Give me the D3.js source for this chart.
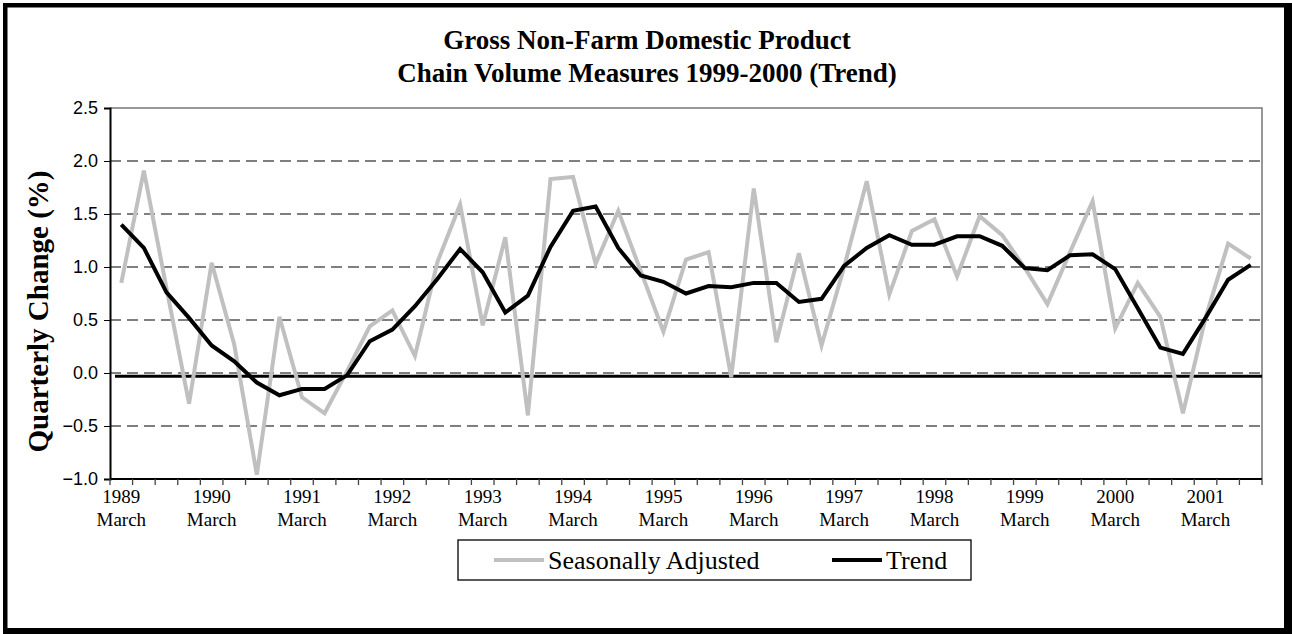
<!DOCTYPE html>
<meta charset="utf-8">
<script src="https://d3js.org/d3.v7.min.js"></script>
<style>
  body { margin: 0; background: #fff; }
</style>
<div id="chart"></div>
<script>

// quarters: March 1989 .. September 2001
var years = ["1989","1990","1991","1992","1993","1994","1995","1996","1997","1998","1999","2000","2001"];
var months = ["March","June","September","December"];
var quarters = [];
years.forEach(function(yr) {
  months.forEach(function(m) { quarters.push(yr + " " + m); });
});
quarters = quarters.slice(0, 51);

var seasonallyAdjusted = [0.85,1.91,0.80,-0.29,1.04,0.27,-0.96,0.53,-0.23,-0.38,
  0.02,0.44,0.59,0.16,1.05,1.59,0.45,1.28,-0.40,1.83,
  1.85,1.03,1.53,0.96,0.39,1.07,1.14,-0.04,1.74,0.29,
  1.13,0.26,1.00,1.81,0.74,1.34,1.45,0.91,1.48,1.30,
  0.99,0.65,1.14,1.62,0.42,0.85,0.53,-0.38,0.52,1.22,1.08];

var trend = [1.40,1.18,0.76,0.52,0.26,0.11,-0.09,-0.21,-0.15,-0.15,
  -0.02,0.30,0.41,0.63,0.89,1.17,0.95,0.57,0.73,1.19,
  1.53,1.57,1.18,0.92,0.86,0.75,0.82,0.81,0.85,0.85,
  0.67,0.70,1.01,1.18,1.30,1.21,1.21,1.29,1.29,1.20,
  0.99,0.97,1.11,1.12,0.98,0.61,0.24,0.18,0.52,0.88,1.02];

var yTicks = [-1.0,-0.5,0.0,0.5,1.0,1.5,2.0,2.5];
var baseline = -0.03;   // the heavy horizontal line just under zero

// size of the page and the plot area
var W = 1292, H = 634;
var plot = {left: 110, right: 1262, top: 108, bottom: 479};

var svg = d3.select("#chart").append("svg")
  .attr("width", W).attr("height", H);

// outer frame
svg.append("rect").attr("x", 3).attr("y", 3).attr("width", W - 3).attr("height", H - 3).attr("fill", "#000");
svg.append("rect").attr("x", 7.5).attr("y", 7.5).attr("width", 1284 - 7.5).attr("height", 628 - 7.5).attr("fill", "#fff");

// scales
var x = d3.scaleBand()
  .domain(quarters)
  .range([plot.left, plot.right])
  .padding(0);
var xc = function(d) { return x(d) + x.bandwidth() / 2; };

var y = d3.scaleLinear()
  .domain([-1, 2.5])
  .range([plot.bottom, plot.top]);

// gridlines
svg.append("g")
  .selectAll("line")
  .data(yTicks.filter(function(t) { return t > -1 && t < 2.5; }))
  .enter().append("line")
    .attr("x1", plot.left).attr("x2", plot.right)
    .attr("y1", function(d) { return y(d); })
    .attr("y2", function(d) { return y(d); })
    .attr("stroke", "#000")
    .attr("stroke-width", 1.2)
    .attr("stroke-dasharray", "11,6");

// top and right border of the plot
svg.append("path")
  .attr("d", "M" + plot.left + "," + y(2.5) + "H" + plot.right + "V" + plot.bottom)
  .attr("fill", "none")
  .attr("stroke", "#777")
  .attr("stroke-width", 1.5);

// Y axis
var yAxis = svg.append("g")
  .attr("transform", "translate(" + plot.left + ",0)")
  .call(d3.axisLeft(y).tickValues(yTicks).tickSize(6).tickPadding(6)
        .tickFormat(d3.format(".1f")));
yAxis.select(".domain").attr("stroke-width", 2);
yAxis.selectAll("text")
  .attr("font-family", "Liberation Sans, Arial, sans-serif")
  .attr("font-size", 18)
  .attr("fill", "#000");

// X axis: ticks on the quarter boundaries
var xAxis = svg.append("g")
  .attr("transform", "translate(0," + plot.bottom + ")");
xAxis.append("line")
  .attr("x1", plot.left).attr("x2", plot.right)
  .attr("stroke", "#000").attr("stroke-width", 2);
xAxis.selectAll(".qtick")
  .data(quarters.concat(["end"]))
  .enter().append("line")
    .attr("class", "qtick")
    .attr("x1", function(d) { return d === "end" ? plot.right : x(d); })
    .attr("x2", function(d) { return d === "end" ? plot.right : x(d); })
    .attr("y1", 0).attr("y2", 6)
    .attr("stroke", "#444").attr("stroke-width", 1.3);

var marchQs = quarters.filter(function(q) { return q.indexOf("March") > 0; });
var lab = xAxis.selectAll(".xlab")
  .data(marchQs)
  .enter().append("text")
    .attr("class", "xlab")
    .attr("text-anchor", "middle")
    .attr("font-family", "Liberation Serif, Times New Roman, serif")
    .attr("font-size", 19)
    .attr("x", function(d) { return xc(d); });
lab.append("tspan").attr("x", function(d) { return xc(d); }).attr("y", 24)
  .text(function(d) { return d.split(" ")[0]; });
lab.append("tspan").attr("x", function(d) { return xc(d); }).attr("y", 47)
  .text("March");

// heavy line just below zero
svg.append("line")
  .attr("x1", plot.left + 5).attr("x2", plot.right)
  .attr("y1", y(baseline)).attr("y2", y(baseline))
  .attr("stroke", "#000").attr("stroke-width", 3);

// series lines
var line = d3.line()
  .x(function(d, i) { return xc(quarters[i]); })
  .y(function(d) { return y(d); });

svg.append("path")
  .datum(seasonallyAdjusted)
  .attr("d", line)
  .attr("fill", "none")
  .attr("stroke", "#c0c0c0")
  .attr("stroke-width", 4)
  .attr("stroke-linejoin", "miter");

svg.append("path")
  .datum(trend)
  .attr("d", line)
  .attr("fill", "none")
  .attr("stroke", "#000")
  .attr("stroke-width", 4)
  .attr("stroke-linejoin", "miter");

// titles
var title = svg.append("text")
  .attr("text-anchor", "middle")
  .attr("font-family", "Liberation Serif, Times New Roman, serif")
  .attr("font-weight", "bold")
  .attr("font-size", 27);
title.append("tspan").attr("x", 647).attr("y", 49).text("Gross Non-Farm Domestic Product");
title.append("tspan").attr("x", 647).attr("y", 82).text("Chain Volume Measures 1999-2000 (Trend)");

svg.append("text")
  .attr("transform", "translate(48," + ((plot.top + plot.bottom) / 2 + 18) + ") rotate(-90)")
  .attr("text-anchor", "middle")
  .attr("font-family", "Liberation Serif, Times New Roman, serif")
  .attr("font-weight", "bold")
  .attr("font-size", 29)
  .text("Quarterly Change (%)");

// legend
var legend = svg.append("g").attr("transform", "translate(458,540)");
legend.append("rect")
  .attr("width", 513).attr("height", 40)
  .attr("fill", "#fff").attr("stroke", "#000").attr("stroke-width", 1.3);
var items = [
  {name: "Seasonally Adjusted", color: "#c0c0c0", x: 36},
  {name: "Trend", color: "#000", x: 374}
];
items.forEach(function(it) {
  legend.append("line")
    .attr("x1", it.x).attr("x2", it.x + 50)
    .attr("y1", 20).attr("y2", 20)
    .attr("stroke", it.color).attr("stroke-width", 4);
  legend.append("text")
    .attr("x", it.x + 54).attr("y", 29)
    .attr("font-family", "Liberation Serif, Times New Roman, serif")
    .attr("font-size", 26)
    .text(it.name);
});

</script>
